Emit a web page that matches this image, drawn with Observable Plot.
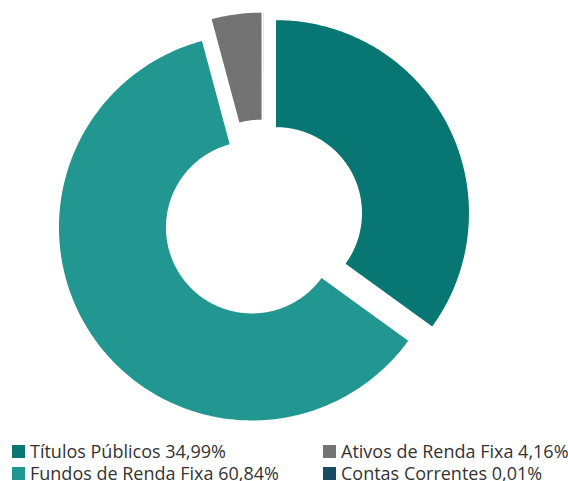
<!DOCTYPE html>
<html><head><meta charset="utf-8">
<script src="https://cdn.jsdelivr.net/npm/d3@7"></script>
<script src="https://cdn.jsdelivr.net/npm/@observablehq/plot@0.6"></script>
<style>
body{margin:0;background:#fff;font-family:"Open Sans",sans-serif;}
#chart{width:568px;height:440px;}
#legend{display:grid;grid-template-columns:311px 257px;grid-template-rows:22px 22px;grid-auto-flow:column;font-size:18px;line-height:22px;color:#333;}
.item{display:flex;align-items:center;white-space:nowrap;}
.sw{width:13px;height:13px;margin-left:12px;margin-right:5px;flex:none;}
</style></head><body><div id="chart"></div><div id="legend"></div>
<script>
const categories = ["Títulos Públicos", "Fundos de Renda Fixa", "Ativos de Renda Fixa", "Contas Correntes"];
const shares = [34.99, 60.84, 4.16, 0.01];
const colors = ["#087672", "#229690", "#737373", "#1b4a64"];

const R = 193, r = 86, EXPLODE = 14;
const rows = categories.map((name, i) => ({name, share: shares[i]}));
const arcs = d3.pie().sort(null).value(d => d.share)(rows);
const pts = [];
arcs.forEach(a => {
  const mid = (a.startAngle + a.endAngle) / 2;
  const ox = EXPLODE * Math.sin(mid), oy = EXPLODE * Math.cos(mid);
  const n = Math.max(2, Math.ceil((a.endAngle - a.startAngle) / 0.01));
  for (let i = 0; i <= n; i++) {
    const t = a.startAngle + (a.endAngle - a.startAngle) * i / n;
    pts.push({name: a.data.name, x: ox + R * Math.sin(t), y: oy + R * Math.cos(t)});
  }
  for (let i = n; i >= 0; i--) {
    const t = a.startAngle + (a.endAngle - a.startAngle) * i / n;
    pts.push({name: a.data.name, x: ox + r * Math.sin(t), y: oy + r * Math.cos(t)});
  }
});

const chart = Plot.plot({
  width: 568, height: 440, margin: 0,
  x: {domain: [-263, 305], axis: null},
  y: {domain: [-221, 219], axis: null},
  color: {domain: categories, range: colors},
  marks: [
    Plot.line(pts, {x: "x", y: "y", z: "name", fill: "name", stroke: "none", curve: "linear-closed"})
  ]
});
document.getElementById("chart").appendChild(chart);

const fmt = v => v.toFixed(2).replace(".", ",") + "%";
const legend = document.getElementById("legend");
categories.forEach((c, i) => {
  const it = document.createElement("div");
  it.className = "item";
  const sw = document.createElement("span");
  sw.className = "sw";
  sw.style.background = colors[i];
  it.appendChild(sw);
  const tx = document.createElement("span");
  tx.textContent = c + " " + fmt(shares[i]);
  it.appendChild(tx);
  legend.appendChild(it);
});
</script></body></html>
